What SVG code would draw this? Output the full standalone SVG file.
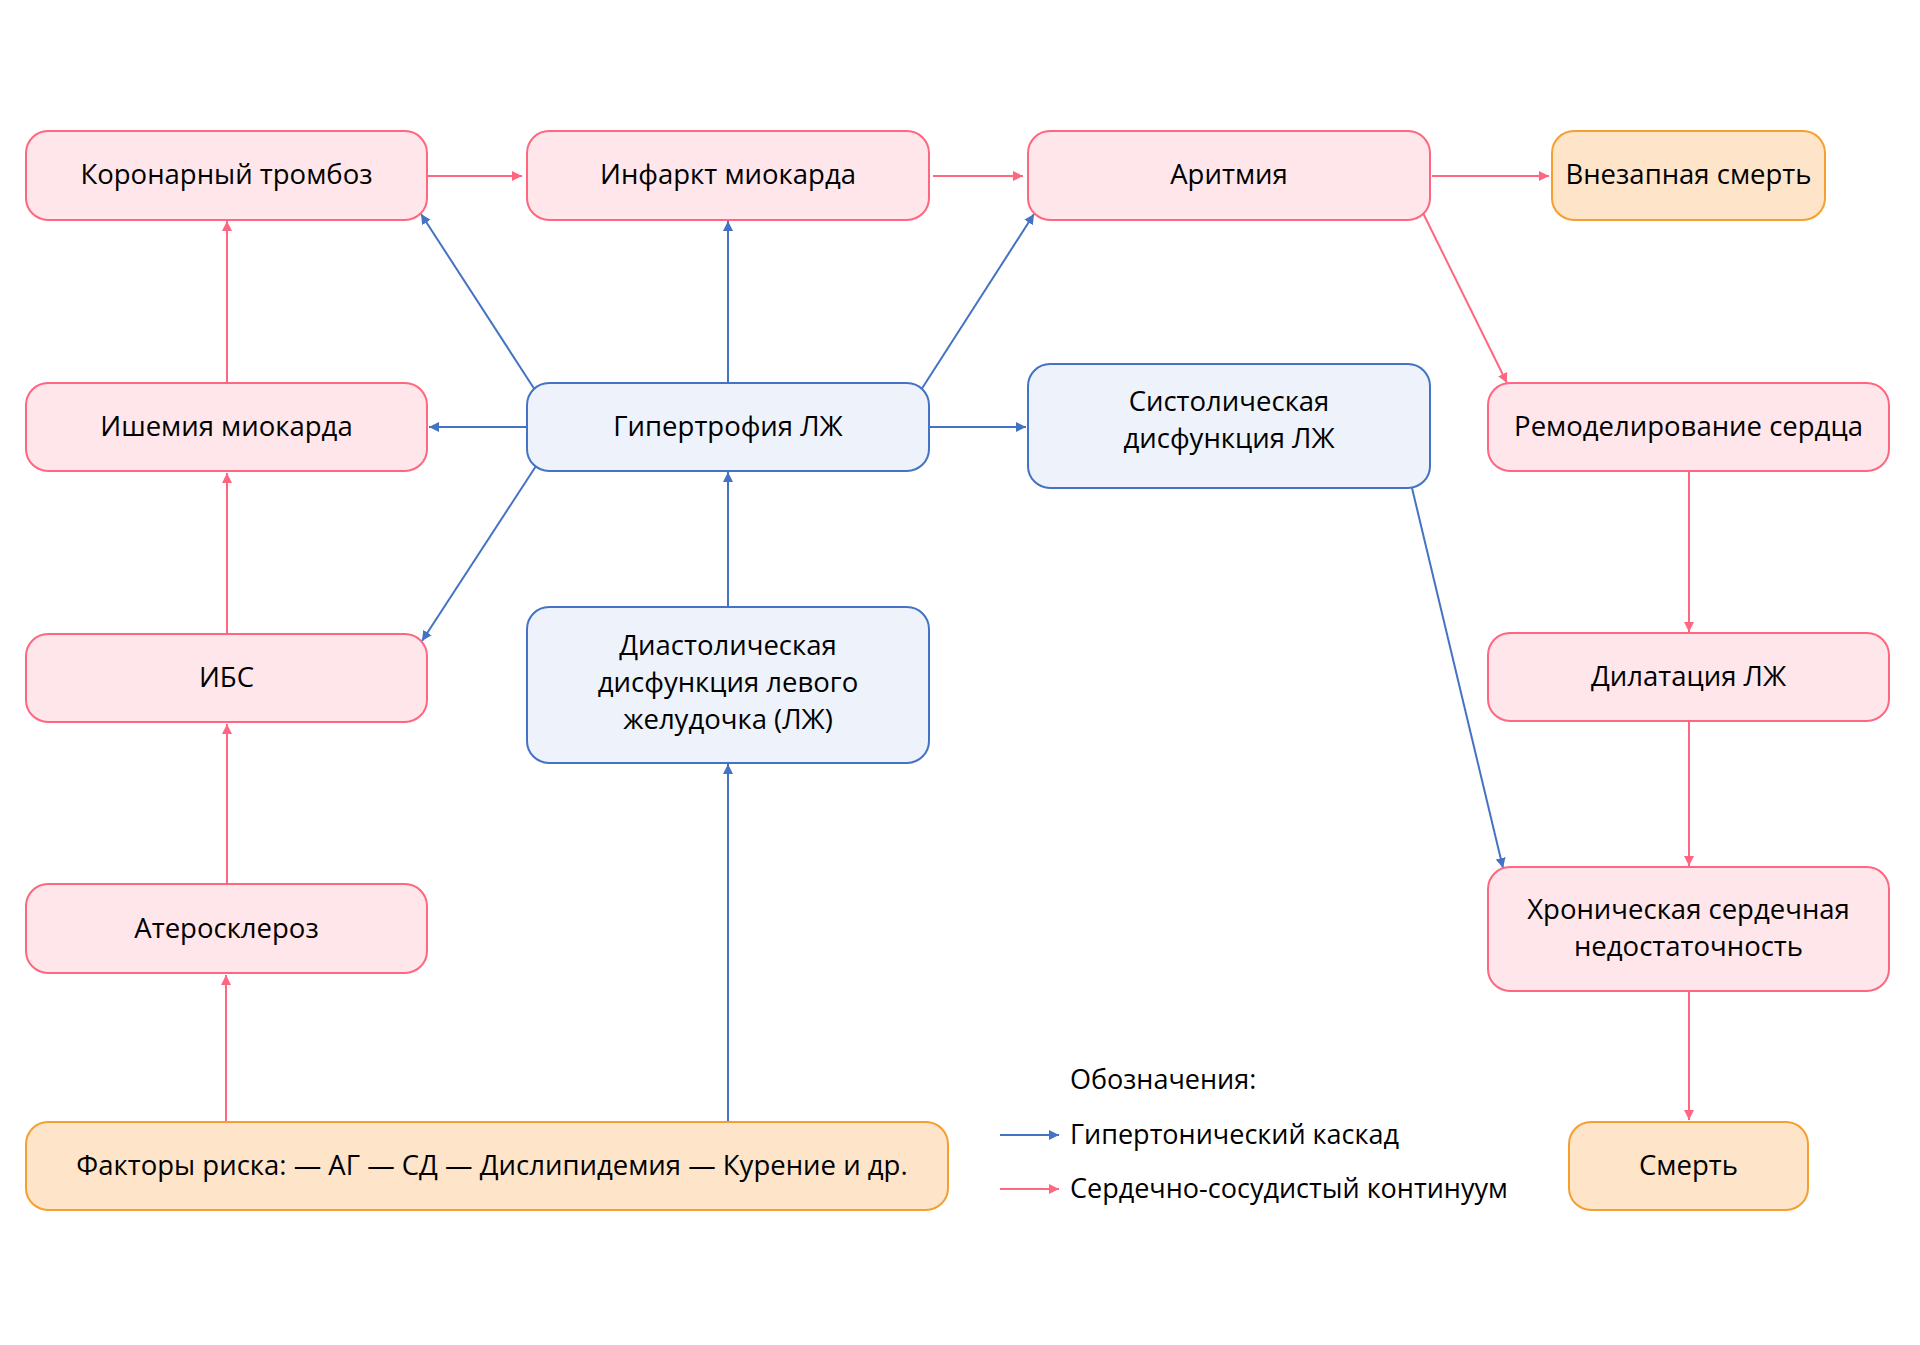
<svg xmlns="http://www.w3.org/2000/svg" width="1920" height="1345" viewBox="0 0 1920 1345">
<defs>
<style>
.bg{fill:#ffffff}
.pink rect{fill:#ffe6ea;stroke:#ff6680;stroke-width:2}
.blue rect{fill:#edf2fb;stroke:#4472c4;stroke-width:2}
.orange rect{fill:#fee4c9;stroke:#f4a030;stroke-width:2}
text{font-family:"Open Sans","Noto Sans","DejaVu Sans",sans-serif;font-size:27.5px;fill:#000}
#legend text{font-size:27px}
.c{text-anchor:middle}
.lp{stroke:#ff6680;stroke-width:2;fill:none;marker-end:url(#ap)}
.lb{stroke:#4472c4;stroke-width:2;fill:none;marker-end:url(#ab)}
</style>
<marker id="ap" markerUnits="userSpaceOnUse" markerWidth="10" markerHeight="10" refX="10" refY="5" orient="auto" viewBox="0 0 10 10"><path d="M0,0 L10,5 L0,10 z" fill="#ff6680"/></marker>
<marker id="ab" markerUnits="userSpaceOnUse" markerWidth="10" markerHeight="10" refX="10" refY="5" orient="auto" viewBox="0 0 10 10"><path d="M0,0 L10,5 L0,10 z" fill="#4472c4"/></marker>
</defs>
<rect class="bg" x="0" y="0" width="1920" height="1345"/>
<g id="connectors">
<path class="lp" d="M428,176 L522,176"/>
<path class="lp" d="M933,176 L1023,176"/>
<path class="lp" d="M1432,176 L1549,176"/>
<path class="lp" d="M1423,213 L1507,383"/>
<path class="lp" d="M227,383 L227,221"/>
<path class="lp" d="M227,634 L227,473"/>
<path class="lp" d="M227,884 L227,724"/>
<path class="lp" d="M226,1122 L226,975"/>
<path class="lp" d="M1689,471 L1689,632"/>
<path class="lp" d="M1689,721 L1689,866"/>
<path class="lp" d="M1689,991 L1689,1120"/>
<path class="lb" d="M728,383 L728,221"/>
<path class="lb" d="M527,427 L429,427"/>
<path class="lb" d="M929,427 L1026,427"/>
<path class="lb" d="M535,390 L421,214"/>
<path class="lb" d="M921,390 L1034,214"/>
<path class="lb" d="M536,466 L422,641"/>
<path class="lb" d="M728,607 L728,472"/>
<path class="lb" d="M728,1122 L728,764"/>
<path class="lb" d="M1412,488 L1503,868"/>
</g>
<g id="n1" class="pink"><rect x="26" y="131" width="401" height="89" rx="22"/><text class="c" x="226.5" y="184">Коронарный тромбоз</text></g>
<g id="n2" class="pink"><rect x="527" y="131" width="402" height="89" rx="22"/><text class="c" x="728" y="184">Инфаркт миокарда</text></g>
<g id="n3" class="pink"><rect x="1028" y="131" width="402" height="89" rx="22"/><text class="c" x="1229" y="184">Аритмия</text></g>
<g id="n4" class="orange"><rect x="1552" y="131" width="273" height="89" rx="22"/><text class="c" x="1688.5" y="184">Внезапная смерть</text></g>
<g id="n5" class="pink"><rect x="26" y="383" width="401" height="88" rx="22"/><text class="c" x="226.5" y="436">Ишемия миокарда</text></g>
<g id="n6" class="blue"><rect x="527" y="383" width="402" height="88" rx="22"/><text class="c" x="728" y="436">Гипертрофия ЛЖ</text></g>
<g id="n7" class="blue"><rect x="1028" y="364" width="402" height="124" rx="22"/><text class="c" x="1229" y="411">Систолическая</text><text class="c" x="1229" y="448">дисфункция ЛЖ</text></g>
<g id="n8" class="pink"><rect x="1488" y="383" width="401" height="88" rx="22"/><text class="c" x="1688.5" y="436">Ремоделирование сердца</text></g>
<g id="n9" class="pink"><rect x="26" y="634" width="401" height="88" rx="22"/><text class="c" x="226.5" y="687">ИБС</text></g>
<g id="n10" class="blue"><rect x="527" y="607" width="402" height="156" rx="22"/><text class="c" x="728" y="654.5">Диастолическая</text><text class="c" x="728" y="691.5">дисфункция левого</text><text class="c" x="728" y="728.5">желудочка (ЛЖ)</text></g>
<g id="n11" class="pink"><rect x="1488" y="633" width="401" height="88" rx="22"/><text class="c" x="1688.5" y="686">Дилатация ЛЖ</text></g>
<g id="n12" class="pink"><rect x="26" y="884" width="401" height="89" rx="22"/><text class="c" x="226.5" y="938">Атеросклероз</text></g>
<g id="n13" class="pink"><rect x="1488" y="867" width="401" height="124" rx="22"/><text class="c" x="1688.5" y="919">Хроническая сердечная</text><text class="c" x="1688.5" y="956">недостаточность</text></g>
<g id="n14" class="orange"><rect x="26" y="1122" width="922" height="88" rx="22"/><text class="c" x="492" y="1175">Факторы риска: — АГ — СД — Дислипидемия — Курение и др.</text></g>
<g id="n15" class="orange"><rect x="1569" y="1122" width="239" height="88" rx="22"/><text class="c" x="1688.5" y="1175">Смерть</text></g>
<g id="legend">
<text x="1070" y="1089">Обозначения:</text>
<path class="lb" d="M1000,1135 L1059,1135"/>
<text x="1070" y="1144">Гипертонический каскад</text>
<path class="lp" d="M1000,1189 L1059,1189"/>
<text x="1070" y="1198">Сердечно-сосудистый континуум</text>
</g>
</svg>
